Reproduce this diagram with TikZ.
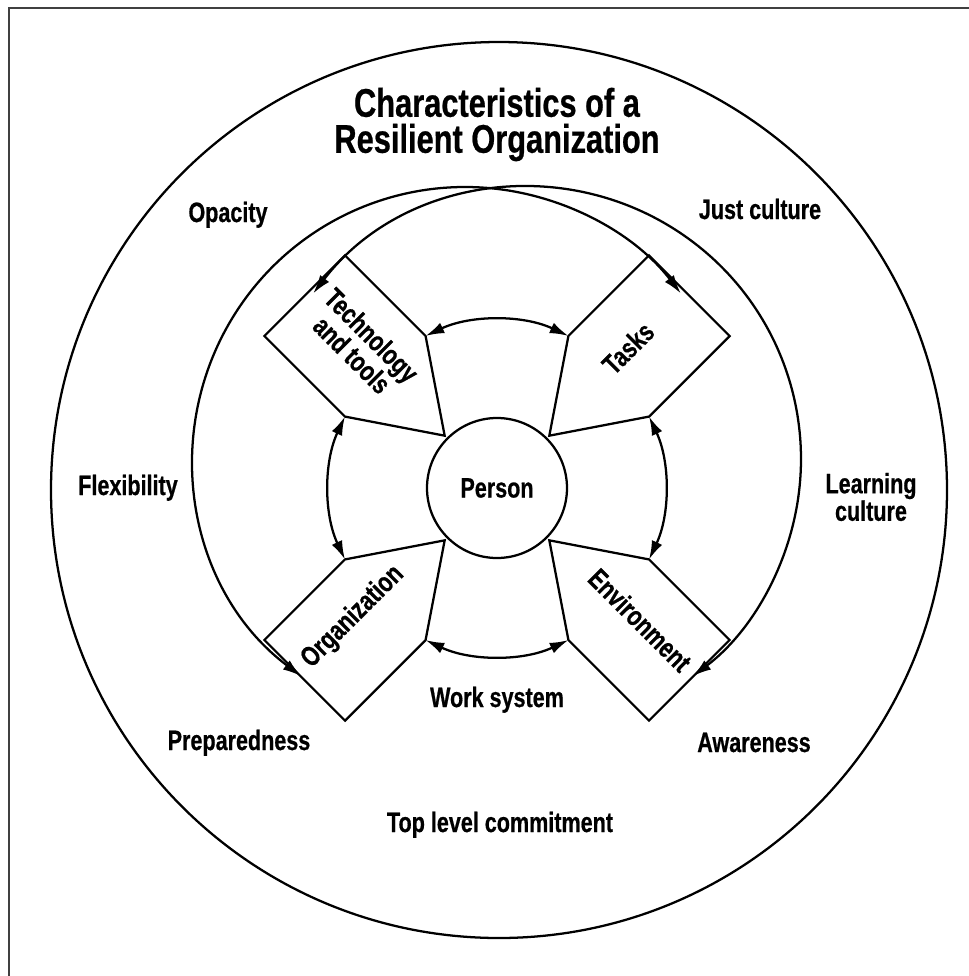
\documentclass[tikz,border=0pt]{standalone}
\usepackage{fontspec}
\setmainfont{Liberation Sans}[FakeStretch=0.77, BoldFeatures={FakeBold=0.6}]
\usetikzlibrary{arrows.meta,calc}
\begin{document}
\begin{tikzpicture}[x=0.75pt,y=-0.75pt,
  >={Latex[length=14pt,width=8.5pt]},
  lbl/.style={font=\fontsize{21}{19}\selectfont\bfseries, align=center, inner sep=0pt},
  ttl/.style={font=\fontsize{30}{27}\selectfont\bfseries, align=center, inner sep=0pt},
  ln/.style={line width=1.7pt},
  dbl/.style={ln, <->},
  boxshape/.style={ln, line join=miter, fill=white}]
\useasboundingbox (0,0) rectangle (969,976);
\clip (0,0) rectangle (969,976);
\draw[line width=2.2pt, black!75] (9,8) rectangle (1010,1010);

\coordinate (C) at (497,488);
\coordinate (OC) at (499,490);
\coordinate (L) at (465,459);
\coordinate (R) at (529,459);

% outer circle
\draw[ln] (OC) circle[radius=448];

% four boxes
\foreach \a/\n in {225/tech,315/tasks,45/env,135/org}{
  \coordinate (\n-tip) at ($(C)+(\a:74)$);
  \coordinate (\n-cw) at ($(C)+({\a+19.84}:168)$);
  \coordinate (\n-ocw) at ($(C)+({\a+11.84}:277.9)$);
  \coordinate (\n-occ) at ($(C)+({\a-11.84}:277.9)$);
  \coordinate (\n-ccw) at ($(C)+({\a-19.84}:168)$);
  \draw[boxshape] (\n-tip) -- (\n-cw) -- (\n-ocw) -- (\n-occ) -- (\n-ccw) -- cycle;
}

% big overlapping arcs
\coordinate (la) at ($(L)+(127:272)$);
\coordinate (ra) at ($(R)+(217.5:272)$);
\draw[dbl] (la) arc[start angle=127, end angle=322.5, radius=272];
\draw[dbl] (ra) arc[start angle=217.5, end angle=413, radius=272];

% inner arcs
\draw[dbl] (tech-cw) arc[start angle=244.84, end angle=295.16, radius=168];
\draw[dbl] (tasks-cw) arc[start angle=334.84, end angle=385.16, radius=168];
\draw[dbl] (env-cw) arc[start angle=64.84, end angle=115.16, radius=168];
\draw[dbl] (org-cw) arc[start angle=154.84, end angle=205.16, radius=168];

% person
\node[draw, circle, ln, minimum size=105pt, inner sep=0pt, lbl, fill=white] (P) at (C) {Person};

% box labels
\node[lbl, rotate=-45] (techl) at (362,345) {Technology\\and tools};
\node[lbl, rotate=45] (tasksl) at (628,348) {Tasks};
\node[lbl, rotate=45] (orgl) at (353,617) {Organization};
\node[lbl, rotate=-45] (envl) at (640,620) {Environment};

% title and labels
\node[ttl] (title) at (497,124.5) {Characteristics of a\\Resilient Organization};
\node[lbl, anchor=base] (opac) at (228,222) {Opacity};
\node[lbl, anchor=base] (just) at (760,219) {Just culture};
\node[lbl, anchor=base] (flex) at (128,495) {Flexibility};
\node[lbl] (learn) at (871,497) {Learning\\culture};
\node[lbl, anchor=base] (prep) at (239,750) {Preparedness};
\node[lbl, anchor=base] (aware) at (754,752) {Awareness};
\node[lbl, anchor=base] (work) at (497,707) {Work system};
\node[lbl, anchor=base] (toplc) at (500,832) {Top level commitment};
\end{tikzpicture}
\end{document}
